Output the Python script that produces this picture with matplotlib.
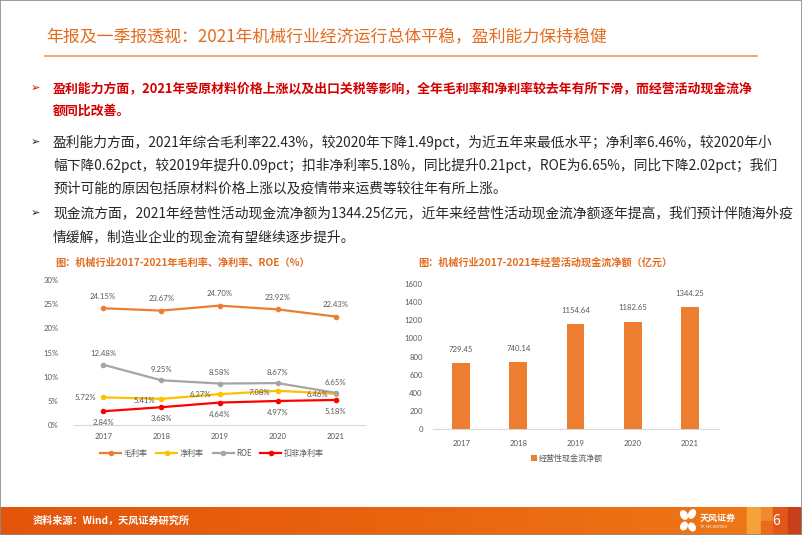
import matplotlib
matplotlib.use("Agg")
import matplotlib.pyplot as plt
import numpy as np
from matplotlib.patches import Rectangle, Ellipse
from matplotlib.lines import Line2D
from matplotlib.colors import LinearSegmentedColormap

W, H = 802, 535
CJK = ['Noto Sans CJK SC', 'DejaVu Sans']
NUM = ['Lato', 'Noto Sans CJK SC', 'DejaVu Sans']
plt.rcParams['font.family'] = CJK

# ---------------- data ----------------
years = ['2017', '2018', '2019', '2020', '2021']
gross_margin = [24.15, 23.67, 24.70, 23.92, 22.43]
net_margin = [5.72, 5.41, 6.37, 7.08, 6.46]
roe = [12.48, 9.25, 8.58, 8.67, 6.65]
net_margin_ex = [2.84, 3.68, 4.64, 4.97, 5.18]
series_names = ['毛利率', '净利率', 'ROE', '扣非净利率']
cash_flow = [729.45, 740.14, 1154.64, 1182.65, 1344.25]
cash_name = '经营性现金流净额'
pct_ticks = [0, 5, 10, 15, 20, 25, 30]
cash_ticks = [0, 200, 400, 600, 800, 1000, 1200, 1400, 1600]

title = '年报及一季报透视：2021年机械行业经济运行总体平稳，盈利能力保持稳健'
bullets = [
    (['盈利能力方面，2021年受原材料价格上涨以及出口关税等影响，全年毛利率和净利率较去年有所下滑，而经营活动现金流净',
      '额同比改善。'], True),
    (['盈利能力方面，2021年综合毛利率22.43%，较2020年下降1.49pct，为近五年来最低水平；净利率6.46%，较2020年小',
      '幅下降0.62pct，较2019年提升0.09pct；扣非净利率5.18%，同比提升0.21pct，ROE为6.65%，同比下降2.02pct；我们',
      '预计可能的原因包括原材料价格上涨以及疫情带来运费等较往年有所上涨。'], False),
    (['现金流方面，2021年经营性活动现金流净额为1344.25亿元，近年来经营性活动现金流净额逐年提高，我们预计伴随海外疫',
      '情缓解，制造业企业的现金流有望继续逐步提升。'], False),
]
chart1_title = '图：机械行业2017-2021年毛利率、净利率、ROE（%）'
chart2_title = '图：机械行业2017-2021年经营活动现金流净额（亿元）'
source = '资料来源：Wind，天风证券研究所'
page_no = '6'

# ---------------- colours ----------------
ORANGE = '#ED7D31'
YELLOW = '#FFC000'
GRAY = '#A5A5A5'
RED = '#FF0000'
TITLE_C = '#E36C1E'
TXT = '#262626'
LBL = '#595959'

fig = plt.figure(figsize=(W / 100, H / 100), dpi=100)

def fx(x):
    return x / W

def fy(y):
    return 1 - y / H

# border
fig.add_artist(Rectangle((0, 0), 1, 1, transform=fig.transFigure, fill=False,
                         edgecolor='#8C8C8C', lw=1.2, zorder=10))

# title
fig.text(fx(46), fy(37), title, fontsize=12.2, color=TITLE_C, va='center', ha='left')
fig.add_artist(Line2D([fx(45), fx(757)], [fy(55.5), fy(55.5)], color='#F0A060', lw=1.3,
                      transform=fig.transFigure))

# bullets
line_y = [[88, 111], [142, 165, 188], [213, 237]]
for (lines, red), ys in zip(bullets, line_y):
    col = '#D40000' if red else TXT
    fig.text(fx(35), fy(ys[0]), '➢', fontsize=8, color=col, va='center', ha='center',
             family=['DejaVu Sans'])
    for ln, yy in zip(lines, ys):
        fig.text(fx(53), fy(yy), ln, fontsize=9.3 if red else 9.9, color=col, va='center',
                 ha='left', fontweight='bold' if red else 'normal')

# chart titles
fig.text(fx(55), fy(263), chart1_title, fontsize=7.3, color=TITLE_C, va='center',
         ha='left', fontweight='bold')
fig.text(fx(418), fy(263), chart2_title, fontsize=7.3, color=TITLE_C, va='center',
         ha='left', fontweight='bold')

# ---------------- left chart ----------------
ax1 = fig.add_axes([fx(74), fy(425), 291 / W, 145 / H])
x = np.arange(len(years))
styles = [(gross_margin, ORANGE), (net_margin, YELLOW), (roe, GRAY), (net_margin_ex, RED)]
for (vals, c), name in zip(styles, series_names):
    ax1.plot(x, vals, color=c, lw=1.6, marker='o', ms=3, label=name, zorder=3)
ax1.set_xlim(-0.5, 4.5)
ax1.set_ylim(0, 30)
ax1.set_yticks(pct_ticks)
ax1.set_yticklabels([f'{t}%' for t in pct_ticks])
ax1.set_xticks(x)
ax1.set_xticklabels(years)
for s in ['top', 'right', 'left']:
    ax1.spines[s].set_visible(False)
ax1.spines['bottom'].set_color('#D9D9D9')
ax1.tick_params(axis='both', length=0, labelsize=5.6, labelcolor=LBL)
ax1.tick_params(axis='y', pad=11)
ax1.tick_params(axis='x', pad=6)
for lab in ax1.get_xticklabels() + ax1.get_yticklabels():
    lab.set_family(NUM)

def lbl(ax, xi, v, dx, dy, txt):
    ax.annotate(txt, (xi, v), xytext=(dx, dy), textcoords='offset points', ha='center',
                va='center', fontsize=5.6, color=LBL, family=NUM)

for i, v in enumerate(gross_margin):
    lbl(ax1, i, v, 0, 8.5, f'{v:.2f}%')
for i, v in enumerate(roe):
    lbl(ax1, i, v, 0, 7.8, f'{v:.2f}%')
for i, v in enumerate(net_margin_ex):
    lbl(ax1, i, v, 0, -8.3, f'{v:.2f}%')
nm_off = [(-13, 0), (-12.5, -1), (-13.5, -0.5), (-13, -1.5), (-13, -0.3)]
for i, v in enumerate(net_margin):
    lbl(ax1, i, v, nm_off[i][0], nm_off[i][1], f'{v:.2f}%')

ax1.legend(loc='center', bbox_to_anchor=(fx(212), fy(453.5)), bbox_transform=fig.transFigure,
           ncol=4, frameon=False, fontsize=5.8, handlelength=2.6, handletextpad=0.3,
           columnspacing=1.1, labelcolor=LBL)

# ---------------- right chart ----------------
ax2 = fig.add_axes([fx(432.5), fy(429), 286 / W, 145 / H])
ax2.bar(x, cash_flow, width=0.31, color=ORANGE, label=cash_name, zorder=3)
ax2.set_xlim(-0.5, 4.5)
ax2.set_ylim(0, 1600)
ax2.set_yticks(cash_ticks)
ax2.set_xticks(x)
ax2.set_xticklabels(years)
for s in ['top', 'right', 'left']:
    ax2.spines[s].set_visible(False)
ax2.spines['bottom'].set_color('#D9D9D9')
ax2.tick_params(axis='both', length=0, labelsize=5.6, labelcolor=LBL)
ax2.tick_params(axis='y', pad=7)
ax2.tick_params(axis='x', pad=8)
for lab in ax2.get_xticklabels() + ax2.get_yticklabels():
    lab.set_family(NUM)
for i, v in enumerate(cash_flow):
    ax2.annotate(f'{v:.2f}', (i, v), xytext=(0, 10), textcoords='offset points', ha='center',
                 va='center', fontsize=5.6, color=LBL, family=NUM)
ax2.legend(loc='center', bbox_to_anchor=(fx(567), fy(458)), bbox_transform=fig.transFigure,
           frameon=False, fontsize=5.8, handlelength=0.7, handleheight=0.7,
           handletextpad=0.3, labelcolor=LBL)

# ---------------- footer ----------------
fax = fig.add_axes([0, 0, 1, 28 / H])
grad = np.linspace(0, 1, 256)
cmap = LinearSegmentedColormap.from_list('f', ['#E4550C', '#E9640F', '#EE7A18'])
fax.imshow(grad[None, :], aspect='auto', cmap=cmap, extent=(0, W, 0, 28))
fax.add_patch(Rectangle((747, 0), 14, 28, color='#F5A23A'))
fax.add_patch(Rectangle((761, 14), 12, 14, color='#F08A2A'))
fax.add_patch(Rectangle((761, 0), 12, 14, color='#E86A1A'))
fax.add_patch(Rectangle((773, 0), 15, 28, color='#E2561A'))
fax.add_patch(Rectangle((788, 0), 14, 28, color='#C8401A'))
fax.set_xlim(0, W)
fax.set_ylim(0, 28)
fax.axis('off')
fax.text(33, 14, source, color='white', fontsize=7.3, va='center', ha='left',
         fontweight='bold')
# logo
for (cx, cy, w, h, a) in [(684, 20, 6, 9, 30), (692, 21, 6, 9, -30), (684, 9, 6, 8, -30),
                          (692, 8, 6, 8, 30)]:
    fax.add_patch(Ellipse((cx, cy), w, h, angle=a, color='white'))
fax.text(700, 17, '天风证券', color='white', fontsize=6.5, va='center', ha='left',
         fontweight='bold')
fax.text(700, 7.5, 'TF SECURITIES', color='white', fontsize=2.8, va='center', ha='left')
fax.text(776, 14, page_no, color='white', fontsize=10, va='center', ha='center')

fig.savefig('out.png', dpi=100)
